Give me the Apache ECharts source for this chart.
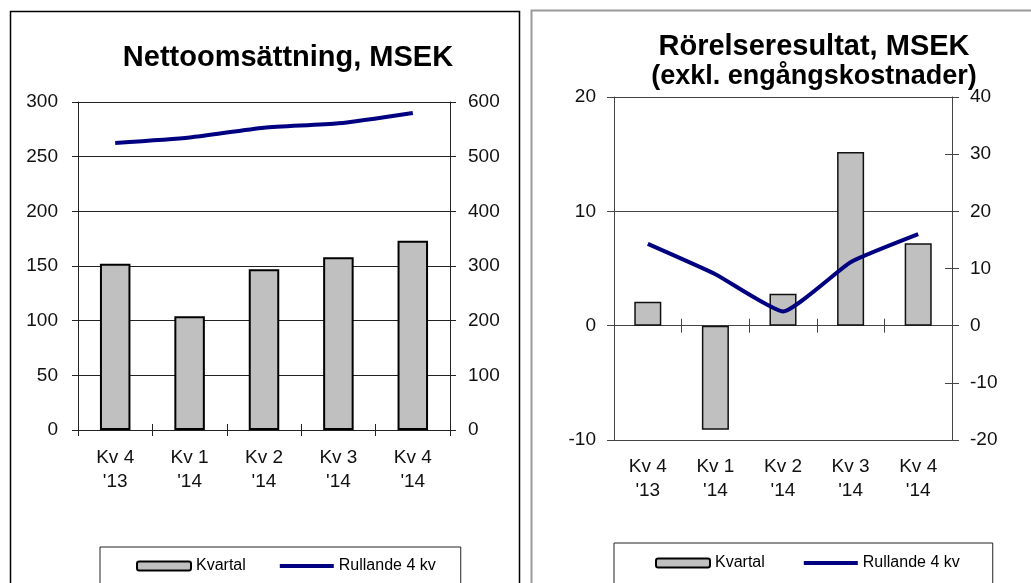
<!DOCTYPE html>
<html>
<head>
<meta charset="utf-8">
<script src="https://cdn.jsdelivr.net/npm/echarts@6/dist/echarts.min.js"></script>
<style>
html,body{margin:0;padding:0;background:#fff;}
#chart{width:1031px;height:583px;}
</style>
</head>
<body>
<div id="chart"></div>
<script>
// ---- data ----
var categories = ["Kv 4\n'13", "Kv 1\n'14", "Kv 2\n'14", "Kv 3\n'14", "Kv 4\n'14"];
var salesQuarter = [152, 104, 147, 158, 173];
var salesRolling = [525, 535, 553, 561, 580];
var ebitQuarter = [2.1, -9.1, 2.8, 15.2, 7.2];
var ebitRolling = [14.3, 9.0, 2.5, 11.1, 16.0];
var seriesNames = ['Kvartal', 'Rullande 4 kv'];
var titleLeft = 'Nettoomsättning, MSEK';
var titleRight = 'Rörelseresultat, MSEK';
var subtitleRight = '(exkl. engångskostnader)';

var FONT = 'Liberation Sans, Arial, sans-serif';
var chart = echarts.init(document.getElementById('chart'));

function catAxis(grid, extra) {
  var base = {
    type: 'category', gridIndex: grid, data: categories,
    axisLine: {show: true, lineStyle: {color: '#222', width: 1}},
    axisTick: {show: true, length: 6, lineStyle: {color: '#222', width: 1}},
    axisLabel: {show: false, margin: 15, fontSize: 19, lineHeight: 24, color: '#111', fontFamily: FONT},
    splitLine: {show: false}
  };
  return echarts.util.merge(base, extra, true);
}

var legendData = [
  {name: seriesNames[0]},
  {name: seriesNames[1], itemStyle: {opacity: 0}, lineStyle: {width: 4, color: '#000080'}}
];

var option = {
  backgroundColor: '#fff',
  animation: false,
  graphic: [
    {type: 'rect', shape: {x: 10.5, y: 11.5, width: 509, height: 620}, style: {fill: 'none', stroke: '#000', lineWidth: 1.5}, z: -1},
    {type: 'rect', shape: {x: 531.5, y: 10.5, width: 620, height: 620}, style: {fill: 'none', stroke: '#9a9a9a', lineWidth: 2}, z: -1}
  ],
  title: [
    {text: titleLeft, left: 288, top: 43, textAlign: 'center', textVerticalAlign: 'top', padding: 0,
     textStyle: {fontSize: 29, fontWeight: 'bold', color: '#000', fontFamily: FONT}},
    {text: titleRight, subtext: subtitleRight, left: 814, top: 32, textAlign: 'center', textVerticalAlign: 'top', padding: 0, itemGap: 2,
     textStyle: {fontSize: 29, fontWeight: 'bold', color: '#000', fontFamily: FONT},
     subtextStyle: {fontSize: 27, fontWeight: 'bold', color: '#000', fontFamily: FONT}}
  ],
  legend: [
    {left: 100, top: 547, padding: [11, 25, 40, 36], itemGap: 32, itemWidth: 54, itemHeight: 9,
     borderColor: '#222', borderWidth: 1, data: legendData,
     textStyle: {fontSize: 16, color: '#000', fontFamily: FONT}},
    {left: 614, top: 543, padding: [12, 33, 44, 41], itemGap: 37, itemWidth: 54, itemHeight: 9,
     borderColor: '#222', borderWidth: 1, data: legendData,
     textStyle: {fontSize: 16, color: '#000', fontFamily: FONT}}
  ],
  grid: [
    {left: 78, top: 102, width: 372, height: 328, containLabel: false},
    {left: 614, top: 97, width: 338, height: 343, containLabel: false}
  ],
  xAxis: [
    catAxis(0, {position: 'bottom', axisLabel: {show: true, margin: 16}}),
    catAxis(0, {position: 'bottom', axisLine: {show: false}, axisTick: {inside: true}}),
    catAxis(1, {position: 'bottom', axisLine: {show: false, onZero: false}, axisTick: {show: false}, axisLabel: {show: true, margin: 15}}),
    catAxis(1, {axisLine: {show: true, onZero: true, lineStyle: {color: '#444'}}, axisTick: {length: 7, lineStyle: {color: '#444'}}}),
    catAxis(1, {axisLine: {show: false, onZero: true}, axisTick: {length: 7, inside: true, lineStyle: {color: '#444'}}})
  ],
  yAxis: [
    {type: 'value', gridIndex: 0, position: 'left', min: 0, max: 300, interval: 50,
     axisLine: {show: true, lineStyle: {color: '#222'}}, axisTick: {show: true, length: 6, lineStyle: {color: '#222'}},
     splitLine: {show: true, lineStyle: {color: '#222', width: 1}},
     axisLabel: {margin: 20, fontSize: 19, color: '#111', fontFamily: FONT}},
    {type: 'value', gridIndex: 0, position: 'right', min: 0, max: 600, interval: 100,
     axisLine: {show: true, lineStyle: {color: '#222'}}, axisTick: {show: true, length: 6, lineStyle: {color: '#222'}},
     splitLine: {show: false},
     axisLabel: {margin: 18, fontSize: 19, color: '#111', fontFamily: FONT}},
    {type: 'value', gridIndex: 1, position: 'left', min: -10, max: 20, interval: 10,
     axisLine: {show: true, lineStyle: {color: '#444'}}, axisTick: {show: true, length: 7, lineStyle: {color: '#444'}},
     splitLine: {show: true, lineStyle: {color: '#444', width: 1}},
     axisLabel: {margin: 18, fontSize: 19, color: '#111', fontFamily: FONT}},
    {type: 'value', gridIndex: 1, position: 'right', min: -20, max: 40, interval: 10,
     axisLine: {show: true, lineStyle: {color: '#444'}}, axisTick: {show: true, length: 7, lineStyle: {color: '#444'}},
     splitLine: {show: false},
     axisLabel: {margin: 18, fontSize: 19, color: '#111', fontFamily: FONT}},
    {type: 'value', gridIndex: 1, position: 'right', min: -20, max: 40, interval: 10,
     axisLine: {show: false}, axisTick: {show: true, inside: true, length: 7, lineStyle: {color: '#444'}},
     splitLine: {show: false}, axisLabel: {show: false}}
  ],
  series: [
    {name: seriesNames[0], type: 'bar', xAxisIndex: 0, yAxisIndex: 0, data: salesQuarter, barWidth: '41%',
     itemStyle: {color: '#c0c0c0', borderColor: '#000', borderWidth: 2}},
    {name: seriesNames[1], type: 'line', xAxisIndex: 0, yAxisIndex: 1, data: salesRolling, smooth: 0.2,
     symbol: 'none', lineStyle: {color: '#000080', width: 4}, itemStyle: {color: '#000080'}, z: 5},
    {name: seriesNames[0], type: 'bar', xAxisIndex: 2, yAxisIndex: 2, data: ebitQuarter, barWidth: '40%',
     itemStyle: {color: '#c0c0c0', borderColor: '#111', borderWidth: 1.5}},
    {name: seriesNames[1], type: 'line', xAxisIndex: 2, yAxisIndex: 3, data: ebitRolling, smooth: 0.15,
     symbol: 'none', lineStyle: {color: '#000080', width: 4}, itemStyle: {color: '#000080'}, z: 5}
  ]
};
chart.setOption(option);
</script>
</body>
</html>
